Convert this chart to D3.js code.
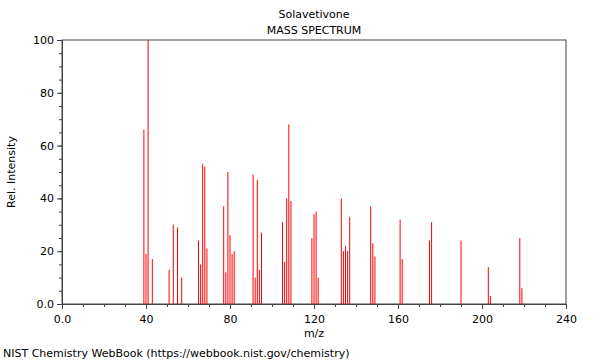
<!DOCTYPE html>
<html>
<head>
<meta charset="utf-8">
<script src="https://cdn.jsdelivr.net/npm/d3@7"></script>
<style>
  body { margin: 0; background: #fff; }
  svg { display: block; font-family: "DejaVu Sans", sans-serif; }
</style>
</head>
<body>
<script>
// peaks (m/z, relative intensity)
const mzValues = [39, 40, 41, 43, 51, 53, 55, 57, 65, 66, 67, 68, 69, 77, 78, 79, 80, 81, 82,
  91, 92, 93, 94, 95, 105, 106, 107, 108, 109, 119, 120, 121, 122, 133, 134, 135, 136, 137,
  147, 148, 149, 161, 162, 175, 176, 190, 203, 204, 218, 219];
const intensities = [66, 19, 100, 17, 13, 30, 29, 10, 24, 15, 53, 52, 21, 37, 12, 50, 26, 19, 20,
  49, 10, 47, 13, 27, 31, 16, 40, 68, 39, 25, 34, 35, 10, 40, 20, 22, 20, 33,
  37, 23, 18, 32, 17, 24, 31, 24, 14, 3, 25, 6];
const xTicks = [0, 40, 80, 120, 160, 200, 240];
const yTicks = [0, 20, 40, 60, 80, 100];
const titleText = 'Solavetivone';
const subtitleText = 'MASS SPECTRUM';
const creditText = 'NIST Chemistry WebBook (https://webbook.nist.gov/chemistry)';

const width = 600, height = 360;
const margin = { top: 40, right: 34, bottom: 56, left: 62 };
const innerW = width - margin.left - margin.right;
const innerH = height - margin.top - margin.bottom;

const peaks = mzValues.map((mz, i) => ({ mz, value: intensities[i] }));

const svg = d3.select('body').append('svg')
  .attr('width', width)
  .attr('height', height)
  .attr('viewBox', `0 0 ${width} ${height}`);

const g = svg.append('g')
  .attr('transform', `translate(${margin.left},${margin.top})`);

const x = d3.scaleLinear().domain([0, 240]).range([0, innerW]);
const y = d3.scaleLinear().domain([0, 100]).range([innerH, 0]);

// frame
g.append('rect')
  .attr('x', 0).attr('y', 0)
  .attr('width', innerW).attr('height', innerH)
  .attr('fill', 'none')
  .attr('stroke', '#444')
  .attr('stroke-width', 1);

// peaks
g.selectAll('.peak')
  .data(peaks)
  .enter()
  .append('line')
  .attr('class', 'peak')
  .attr('x1', d => x(d.mz))
  .attr('x2', d => x(d.mz))
  .attr('y1', y(0))
  .attr('y2', d => y(d.value))
  .attr('stroke', '#ff0000')
  .attr('stroke-width', 1);

// minor ticks
const xMinor = g.append('g')
  .attr('transform', `translate(0,${innerH})`)
  .call(d3.axisBottom(x).tickValues(d3.range(0, 241, 10)).tickSize(3).tickFormat(''));
const yMinor = g.append('g')
  .call(d3.axisLeft(y).tickValues(d3.range(0, 101, 5)).tickSize(3).tickFormat(''));

// major ticks with labels
const xAxis = g.append('g')
  .attr('transform', `translate(0,${innerH})`)
  .call(d3.axisBottom(x).tickValues(xTicks).tickSize(5).tickPadding(6)
    .tickFormat(d => d === 0 ? '0.0' : d3.format('d')(d)));
const yAxis = g.append('g')
  .call(d3.axisLeft(y).tickValues(yTicks).tickSize(5).tickPadding(3)
    .tickFormat(d => d === 0 ? '0.0' : d3.format('d')(d)));

[xMinor, yMinor, xAxis, yAxis].forEach(a => {
  a.select('.domain').attr('stroke', '#444');
  a.selectAll('.tick line').attr('stroke', '#444');
  a.selectAll('text')
    .attr('font-family', '"DejaVu Sans", sans-serif')
    .attr('font-size', 11)
    .attr('fill', '#000');
});

// titles
svg.append('text')
  .attr('x', margin.left + innerW / 2)
  .attr('y', 18)
  .attr('text-anchor', 'middle')
  .attr('font-size', 11)
  .text(titleText);
svg.append('text')
  .attr('x', margin.left + innerW / 2)
  .attr('y', 34)
  .attr('text-anchor', 'middle')
  .attr('font-size', 11)
  .text(subtitleText);

// axis titles
svg.append('text')
  .attr('x', margin.left + innerW / 2)
  .attr('y', 337)
  .attr('text-anchor', 'middle')
  .attr('font-size', 11)
  .text('m/z');
svg.append('text')
  .attr('transform', `translate(15,${margin.top + innerH / 2}) rotate(-90)`)
  .attr('text-anchor', 'middle')
  .attr('font-size', 11)
  .text('Rel. Intensity');

// credit line
svg.append('text')
  .attr('x', 3)
  .attr('y', 357)
  .attr('font-size', 11)
  .text(creditText);
</script>
</body>
</html>
